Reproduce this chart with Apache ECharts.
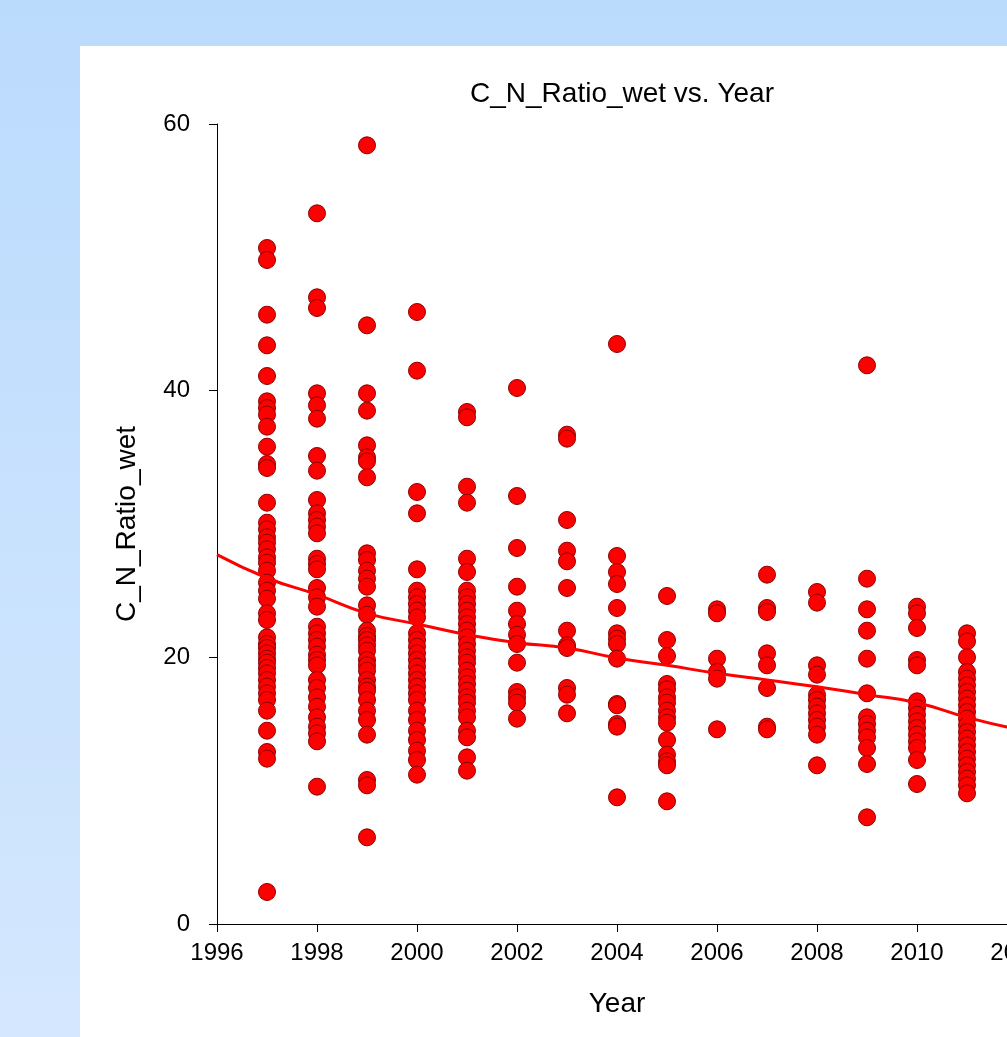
<!DOCTYPE html>
<html>
<head>
<meta charset="utf-8">
<script src="https://cdn.jsdelivr.net/npm/echarts@6/dist/echarts.min.js"></script>
<style>html,body{margin:0;padding:0;overflow:hidden;}#c{width:1100px;height:1037px;}</style>
</head>
<body>
<div id="c"></div>
<script>
const years = [1997,1998,1999,2000,2001,2002,2003,2004,2005,2006,2007,2008,2009,2010,2011];
const v1997 = [50.7,49.8,45.7,43.4,41.1,39.2,38.7,38.2,37.3,35.8,34.5,34.2,31.6,30.1,29.6,29.0,28.6,28.1,27.5,27.1,26.5,25.6,25.0,24.4,23.3,22.8,21.5,21.0,20.7,20.3,19.9,19.6,19.2,18.8,18.3,17.8,17.3,16.8,16.0,14.5,12.9,12.4,2.4];
const v1998 = [53.3,47.0,46.2,39.8,38.9,37.9,35.1,34.0,31.8,30.8,30.3,29.8,29.3,27.4,27.0,26.6,25.2,24.5,23.8,22.3,21.8,21.3,20.8,20.2,19.8,19.4,18.3,17.7,17.0,16.3,15.5,14.8,14.3,13.7,10.3];
const v1999 = [58.4,44.9,39.8,38.5,35.9,35.0,34.7,33.5,27.8,27.3,26.5,25.9,25.3,23.9,23.2,22.0,21.6,21.3,20.9,20.5,19.8,19.4,19.0,18.3,17.8,17.5,16.8,16.0,15.3,14.2,10.8,10.4,6.5];
const v2000 = [45.9,41.5,32.4,30.8,26.6,25.0,24.5,24.0,23.5,23.0,21.8,21.3,20.8,20.3,19.8,19.3,18.8,18.3,17.8,17.3,16.8,16.0,15.3,14.5,13.8,13.0,12.3,11.2];
const v2001 = [38.4,38.0,32.8,31.6,27.4,26.4,25.0,24.5,24.0,23.5,23.0,22.5,22.0,21.5,21.0,20.5,20.0,19.6,19.0,18.5,18.0,17.5,17.0,16.6,16.0,15.5,14.5,14.0,12.5,11.5];
const v2002 = [40.2,32.1,28.2,25.3,23.5,22.5,21.7,21.0,19.6,17.4,17.0,16.6,15.4];
const v2003 = [36.7,36.4,30.3,28.0,27.2,25.2,22.0,20.9,20.7,17.7,17.2,15.8];
const v2004 = [43.5,27.6,26.4,25.5,23.7,21.8,21.4,21.0,19.9,16.5,16.4,15.0,14.8,9.5];
const v2005 = [24.6,21.3,20.1,18.0,17.6,17.0,16.6,16.0,15.5,15.1,13.8,12.7,12.2,11.9,9.2];
const v2006 = [23.6,23.3,19.9,18.9,18.4,14.6];
const v2007 = [26.2,23.7,23.4,20.3,19.4,17.7,14.8,14.6];
const v2008 = [24.9,24.1,19.4,18.7,17.2,16.8,16.3,15.8,15.3,14.8,14.2,11.9];
const v2009 = [41.9,25.9,23.6,22.0,19.9,17.3,15.5,15.0,14.5,14.0,13.2,12.0,8.0];
const v2010 = [23.8,23.3,22.2,19.8,19.4,16.7,16.2,15.7,15.2,14.7,14.2,13.7,13.2,12.3,10.5];
const v2011 = [21.8,21.2,20.0,18.9,18.4,17.9,17.4,16.9,16.4,15.9,15.4,14.9,14.4,13.9,13.4,12.9,12.4,11.9,11.4,10.9,10.4,9.8];
const valuesByYear = [v1997,v1998,v1999,v2000,v2001,v2002,v2003,v2004,v2005,v2006,v2007,v2008,v2009,v2010,v2011];

const trendX = [1996,1997,1998,1999,2000,2001,2002,2003,2004,2005,2006,2007,2008,2009,2010,2011,2012];
const trendY = [27.7,25.95,24.7,23.3,22.5,21.7,21.1,20.7,19.95,19.4,18.8,18.3,17.8,17.2,16.6,15.5,14.6];

const xTicks = {min:1996, max:2012, interval:2};
const yTicks = {min:0, max:60, interval:20};

const scatterData = [];
years.forEach((y,i)=>valuesByYear[i].forEach(v=>scatterData.push([y,v])));
const trendData = trendX.map((x,i)=>[x,trendY[i]]);

const font = '"Liberation Sans", Arial, sans-serif';
const chart = echarts.init(document.getElementById('c'));
chart.setOption({
  backgroundColor: new echarts.graphic.LinearGradient(0,0,0,1,[{offset:0,color:'#bbdbfd'},{offset:1,color:'#d4e7fe'}]),
  animation:false,
  graphic:[{type:'rect', left:80, top:46, shape:{width:1100,height:1000}, style:{fill:'#ffffff'}, z:-10}],
  title:{text:'C_N_Ratio_wet vs. Year', left:617, top:75, textAlign:'center',
    textStyle:{fontFamily:font, fontSize:28, fontWeight:'normal', color:'#000'}},
  grid:{left:217, top:124, height:800, width:800, containLabel:false},
  xAxis:{type:'value', min:xTicks.min, max:xTicks.max, interval:xTicks.interval,
    name:'Year', nameLocation:'middle', nameGap:66,
    nameTextStyle:{fontFamily:font, fontSize:28, color:'#000'},
    axisLine:{onZero:false, lineStyle:{color:'#000', width:1}},
    axisTick:{inside:false, length:8, lineStyle:{color:'#000'}},
    axisLabel:{fontFamily:font, fontSize:24, color:'#000', margin:17, formatter:v=>String(v)},
    splitLine:{show:false}},
  yAxis:{type:'value', min:yTicks.min, max:yTicks.max, interval:yTicks.interval,
    name:'C_N_Ratio_wet', nameLocation:'middle', nameGap:76,
    nameTextStyle:{fontFamily:font, fontSize:28, color:'#000'},
    axisLine:{show:true, lineStyle:{color:'#000', width:1}},
    axisTick:{show:true, inside:false, length:8, lineStyle:{color:'#000'}},
    axisLabel:{fontFamily:font, fontSize:24, color:'#000', margin:27, formatter:v=>String(v)},
    splitLine:{show:false}},
  series:[
    {type:'scatter', data:scatterData, symbol:'circle', symbolSize:17, z:2,
      itemStyle:{color:'#ff0000', borderColor:'#8b0000', borderWidth:1, opacity:1}},
    {type:'line', data:trendData, smooth:true, showSymbol:false, symbol:'none', z:3,
      lineStyle:{color:'#ff0000', width:3}}
  ]
});
</script>
</body>
</html>
